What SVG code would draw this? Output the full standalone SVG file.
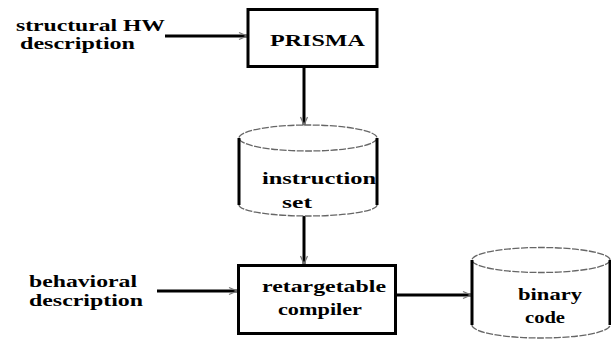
<svg xmlns="http://www.w3.org/2000/svg" width="611" height="345" viewBox="0 0 611 345">
  <style>
    .lbl { font-family: "Liberation Serif", "DejaVu Serif", serif; font-weight: bold; font-size: 16.5px; fill: #000; }
    .sm { font-size: 16px; }
    .box { fill: #fff; stroke: #000; stroke-width: 3; }
    .side { stroke: #000; stroke-width: 3; fill: none; }
    .rim { stroke: #666; stroke-width: 1.3; fill: none; stroke-dasharray: 7 1.5; }
    .flow { stroke: #000; stroke-width: 3; fill: none; marker-end: url(#head); }
  </style>
  <defs>
    <marker id="head" markerUnits="userSpaceOnUse" markerWidth="12" markerHeight="12" refX="10" refY="5" orient="auto" overflow="visible">
      <path d="M2,1.5 L10,5 L2,8.5" fill="none" stroke="#777" stroke-width="1.3"/>
    </marker>
  </defs>
  <rect width="611" height="345" fill="#fff"/>

  <!-- connectors -->
  <g id="connectors">
    <line class="flow" x1="165" y1="36" x2="247" y2="36"/>
    <line class="flow" x1="304" y1="67" x2="304" y2="125"/>
    <line class="flow" x1="304" y1="216" x2="304" y2="264"/>
    <line class="flow" x1="157" y1="291" x2="237" y2="291"/>
    <line class="flow" x1="396" y1="295" x2="471" y2="295"/>
  </g>

  <!-- inputs -->
  <g id="hw-input">
    <text class="lbl sm" x="16" y="31" textLength="149" lengthAdjust="spacingAndGlyphs">structural HW</text>
    <text class="lbl sm" x="20" y="49" textLength="115" lengthAdjust="spacingAndGlyphs">description</text>
  </g>
  <g id="behavior-input">
    <text class="lbl" x="29" y="287" textLength="108" lengthAdjust="spacingAndGlyphs">behavioral</text>
    <text class="lbl" x="29" y="306" textLength="114" lengthAdjust="spacingAndGlyphs">description</text>
  </g>

  <!-- PRISMA -->
  <g id="prisma">
    <rect class="box" x="248" y="9.5" width="129" height="57"/>
    <text class="lbl" x="270" y="46" textLength="95" lengthAdjust="spacingAndGlyphs">PRISMA</text>
  </g>

  <!-- instruction set store -->
  <g id="instruction-set">
    <ellipse class="rim" cx="308" cy="138" rx="69" ry="13"/>
    <path class="side" d="M239,138 V205 M377,138 V205"/>
    <path class="rim" d="M239,205 A69 11 0 0 0 377,205"/>
    <text class="lbl" x="262" y="184" textLength="114" lengthAdjust="spacingAndGlyphs">instruction</text>
    <text class="lbl" x="282" y="208" textLength="30" lengthAdjust="spacingAndGlyphs">set</text>
  </g>

  <!-- compiler -->
  <g id="compiler">
    <rect class="box" x="238.5" y="265.5" width="157" height="68"/>
    <text class="lbl" x="262" y="292" textLength="124" lengthAdjust="spacingAndGlyphs">retargetable</text>
    <text class="lbl" x="278" y="315" textLength="84" lengthAdjust="spacingAndGlyphs">compiler</text>
  </g>

  <!-- binary code store -->
  <g id="binary-code">
    <ellipse class="rim" cx="541" cy="260" rx="69" ry="12.5"/>
    <path class="side" d="M472,260 V325 M610,260 V325"/>
    <path class="rim" d="M472,325 A69 13 0 0 0 610,325"/>
    <text class="lbl" x="518" y="300" textLength="64" lengthAdjust="spacingAndGlyphs">binary</text>
    <text class="lbl" x="525" y="323" textLength="40" lengthAdjust="spacingAndGlyphs">code</text>
  </g>
</svg>
